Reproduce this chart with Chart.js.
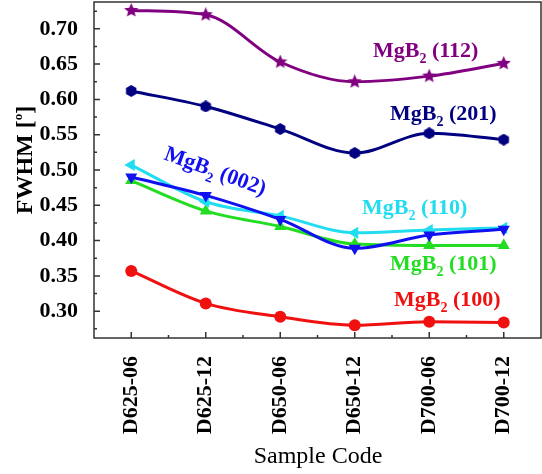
<!DOCTYPE html>
<html>
<head>
<meta charset="utf-8">
<script src="https://cdn.jsdelivr.net/npm/chart.js@4"></script>
<style>
    html, body { margin: 0; padding: 0; background: #fff; }
    #wrap { width: 542px; height: 474px; }
</style>
</head>
<body>
<div id="wrap"><canvas id="fwhmChart"></canvas></div>
<script>
// Data
const sampleCodes = ['D625-06', 'D625-12', 'D650-06', 'D650-12', 'D700-06', 'D700-12'];
const fwhm112 = [0.726, 0.720, 0.653, 0.625, 0.633, 0.651];
const fwhm201 = [0.612, 0.590, 0.558, 0.524, 0.552, 0.543];
const fwhm002 = [0.490, 0.464, 0.430, 0.389, 0.408, 0.416];
const fwhm110 = [0.507, 0.455, 0.435, 0.411, 0.415, 0.418];
const fwhm101 = [0.485, 0.442, 0.420, 0.395, 0.393, 0.393];
const fwhm100 = [0.357, 0.311, 0.292, 0.280, 0.285, 0.284];
const yTicks = [0.30, 0.35, 0.40, 0.45, 0.50, 0.55, 0.60, 0.65, 0.70];

const serif = '"Liberation Serif", "Times New Roman", serif';

// filled marker images (Chart.js star is only an outline)
function makeMarker(size, color, sides, inner) {
    const c = document.createElement('canvas');
    c.width = c.height = size;
    const ctx = c.getContext('2d');
    const r = size / 2;
    ctx.fillStyle = color;
    ctx.beginPath();
    const n = inner ? sides * 2 : sides;
    for (let i = 0; i < n; i++) {
        const a = -Math.PI / 2 + i * 2 * Math.PI / n;
        const rr = (inner && i % 2) ? r * inner : r;
        ctx.lineTo(r + rr * Math.cos(a), r + rr * Math.sin(a));
    }
    ctx.closePath();
    ctx.fill();
    return c;
}

const starMark = makeMarker(15, '#800080', 5, 0.45);
const hexMark = makeMarker(12, '#000080', 6, 0);

function series(label, data, color, style, radius, rot) {
    return {
        label: label,
        data: data,
        borderColor: color,
        backgroundColor: color,
        borderWidth: 3,
        cubicInterpolationMode: 'monotone',
        pointStyle: style,
        pointRadius: radius,
        pointRotation: rot || 0,
        pointBorderWidth: 0,
        fill: false
    };
}

// inner ticks, frame and free text labels
const decorPlugin = {
    id: 'decor',
    afterDraw(chart) {
        const ctx = chart.ctx;
        const a = chart.chartArea;
        const xs = chart.scales.x;
        const ys = chart.scales.y;
        ctx.save();
        ctx.strokeStyle = '#333';
        ctx.lineWidth = 1.5;
        ctx.strokeRect(a.left, a.top, a.right - a.left, a.bottom - a.top);

        ctx.beginPath();
        yTicks.forEach((v, i) => {
            const y = ys.getPixelForValue(v);
            ctx.moveTo(a.left, y); ctx.lineTo(a.left + 6, y);
            const ym = ys.getPixelForValue(v + 0.025);
            if (ym > a.top) { ctx.moveTo(a.left, ym); ctx.lineTo(a.left + 3, ym); }
            if (i === 0) {
                const y0 = ys.getPixelForValue(v - 0.025);
                if (y0 < a.bottom) { ctx.moveTo(a.left, y0); ctx.lineTo(a.left + 3, y0); }
            }
        });
        sampleCodes.forEach((c, i) => {
            const x = xs.getPixelForValue(i);
            ctx.moveTo(x, a.bottom); ctx.lineTo(x, a.bottom - 6);
            if (i < sampleCodes.length - 1) {
                const xm = (x + xs.getPixelForValue(i + 1)) / 2;
                ctx.moveTo(xm, a.bottom); ctx.lineTo(xm, a.bottom - 3);
            }
        });
        ctx.stroke();

        drawLabel(ctx, 373, 57, '112', '#800080', 0);
        drawLabel(ctx, 390, 120, '201', '#000080', 0);
        drawLabel(ctx, 163, 159, '002', '#1010f0', 20 * Math.PI / 180);
        drawLabel(ctx, 362, 214, '110', '#22ddf0', 0);
        drawLabel(ctx, 390, 270, '101', '#22dd22', 0);
        drawLabel(ctx, 394, 306, '100', '#f01010', 0);

        // y title with superscript
        ctx.fillStyle = '#000';
        ctx.translate(32, 160);
        ctx.rotate(-Math.PI / 2);
        ctx.font = 'bold 24px ' + serif;
        const w1 = ctx.measureText('FWHM [').width;
        const w3 = ctx.measureText(']').width;
        ctx.font = 'bold 13px ' + serif;
        const w2 = ctx.measureText('o').width;
        let x0 = -(w1 + w2 + w3) / 2;
        ctx.font = 'bold 24px ' + serif;
        ctx.fillText('FWHM [', x0, 0);
        ctx.font = 'bold 13px ' + serif;
        ctx.fillText('o', x0 + w1, -10);
        ctx.font = 'bold 24px ' + serif;
        ctx.fillText(']', x0 + w1 + w2, 0);
        ctx.restore();

        ctx.save();
        ctx.fillStyle = '#000';
        ctx.font = '24px ' + serif;
        ctx.textAlign = 'center';
        ctx.fillText('Sample Code', 318, 463);
        ctx.restore();
    }
};

function drawLabel(ctx, x, y, hkl, color, angle) {
    ctx.save();
    ctx.translate(x, y);
    ctx.rotate(angle);
    ctx.fillStyle = color;
    ctx.font = 'bold 22px ' + serif;
    ctx.fillText('MgB', 0, 0);
    let w = ctx.measureText('MgB').width;
    ctx.font = 'bold 14px ' + serif;
    ctx.fillText('2', w, 6);
    w += ctx.measureText('2').width;
    ctx.font = 'bold 22px ' + serif;
    ctx.fillText(' (' + hkl + ')', w, 0);
    ctx.restore();
}

new Chart(document.getElementById('fwhmChart'), {
    type: 'line',
    data: {
        labels: sampleCodes,
        datasets: [
            series('MgB2 (002)', fwhm002, '#1010f0', 'triangle', 7, 180),
            series('MgB2 (110)', fwhm110, '#22ddf0', 'triangle', 7, 270),
            series('MgB2 (101)', fwhm101, '#22dd22', 'triangle', 7, 0),
            series('MgB2 (100)', fwhm100, '#f01010', 'circle', 6, 0),
            series('MgB2 (201)', fwhm201, '#000080', hexMark, 6, 0),
            series('MgB2 (112)', fwhm112, '#800080', starMark, 7, 0)
        ]
    },
    options: {
        responsive: true,
        maintainAspectRatio: false,
        animation: false,
        layout: {
            autoPadding: false,
            padding: { top: 2, right: 1, left: 0, bottom: 0 }
        },
        plugins: {
            legend: { display: false },
            tooltip: { enabled: false }
        },
        scales: {
            x: {
                type: 'category',
                offset: true,
                grid: { display: false },
                border: { display: false },
                ticks: {
                    color: '#000',
                    font: { family: serif, size: 22, weight: 'bold' },
                    minRotation: 90,
                    maxRotation: 90,
                    padding: 10
                },
                afterFit: s => {
                    s.height = 136;
                    s.paddingLeft = 0;
                    s.paddingRight = 0;
                }
            },
            y: {
                min: 0.262,
                max: 0.738,
                grid: { display: false },
                border: { display: false },
                afterBuildTicks: s => { s.ticks = yTicks.map(v => ({ value: v })); },
                ticks: {
                    color: '#000',
                    font: { family: serif, size: 22, weight: 'bold' },
                    padding: 8,
                    callback: v => v.toFixed(2)
                },
                afterFit: s => {
                    s.width = 94;
                    s.paddingTop = 0;
                    s.paddingBottom = 0;
                }
            }
        }
    },
    plugins: [decorPlugin]
});
</script>
</body>
</html>
